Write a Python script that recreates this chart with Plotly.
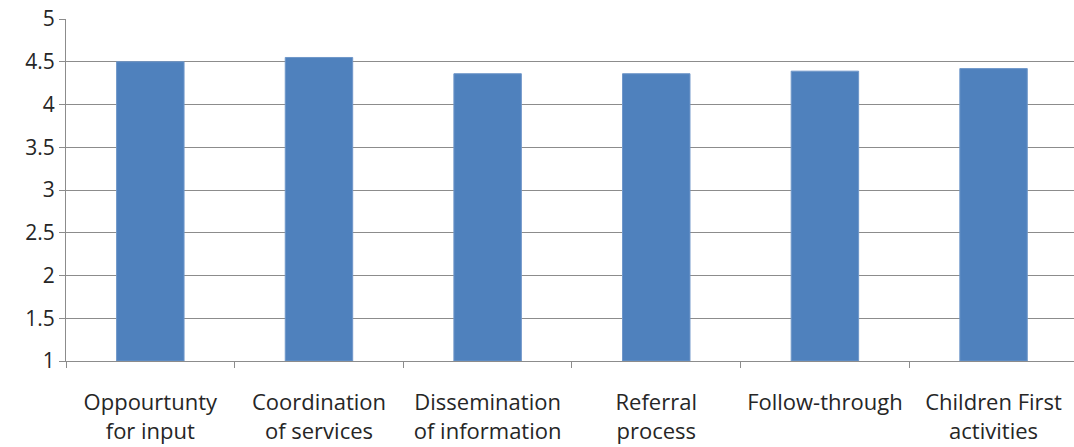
import plotly.graph_objects as go

categories = [
    "Oppourtunty<br>for input",
    "Coordination<br>of services",
    "Dissemination<br>of information",
    "Referral<br>process",
    "Follow-through",
    "Children First<br>activities",
]
scores = [4.50, 4.55, 4.36, 4.36, 4.39, 4.42]
y_ticks = [1, 1.5, 2, 2.5, 3, 3.5, 4, 4.5, 5]
y_tick_text = ["1", "1.5", "2", "2.5", "3", "3.5", "4", "4.5", "5"]

bar_base = 1
fig = go.Figure(
    go.Bar(
        x=categories,
        y=[s - bar_base for s in scores],
        base=bar_base,
        marker=dict(color="#4F81BD", line=dict(color="#6F97C9", width=1)),
        hoverinfo="skip",
    )
)

fig.update_layout(
    width=1074,
    height=447,
    margin=dict(l=66, r=0, t=19, b=86),
    paper_bgcolor="white",
    plot_bgcolor="white",
    bargap=0.6,
    showlegend=False,
    font=dict(family="Open Sans, Lato, sans-serif", size=21, color="#262626"),
)

fig.update_xaxes(
    range=[-0.5, 5.477],
    showgrid=False,
    showline=True,
    linecolor="#8C8C8C",
    linewidth=1,
    ticks="outside",
    tickson="boundaries",
    ticklen=6,
    tickcolor="#8C8C8C",
    ticklabelstandoff=22,
    tickfont=dict(size=22),
)

fig.update_yaxes(
    range=[1, 5],
    tickvals=y_ticks,
    ticktext=y_tick_text,
    showgrid=True,
    gridcolor="#8C8C8C",
    gridwidth=1,
    showline=True,
    linecolor="#8C8C8C",
    linewidth=1,
    ticks="outside",
    ticklen=6,
    tickcolor="#8C8C8C",
    zeroline=False,
    tickfont=dict(size=21),
)

fig.write_html("out.html")
